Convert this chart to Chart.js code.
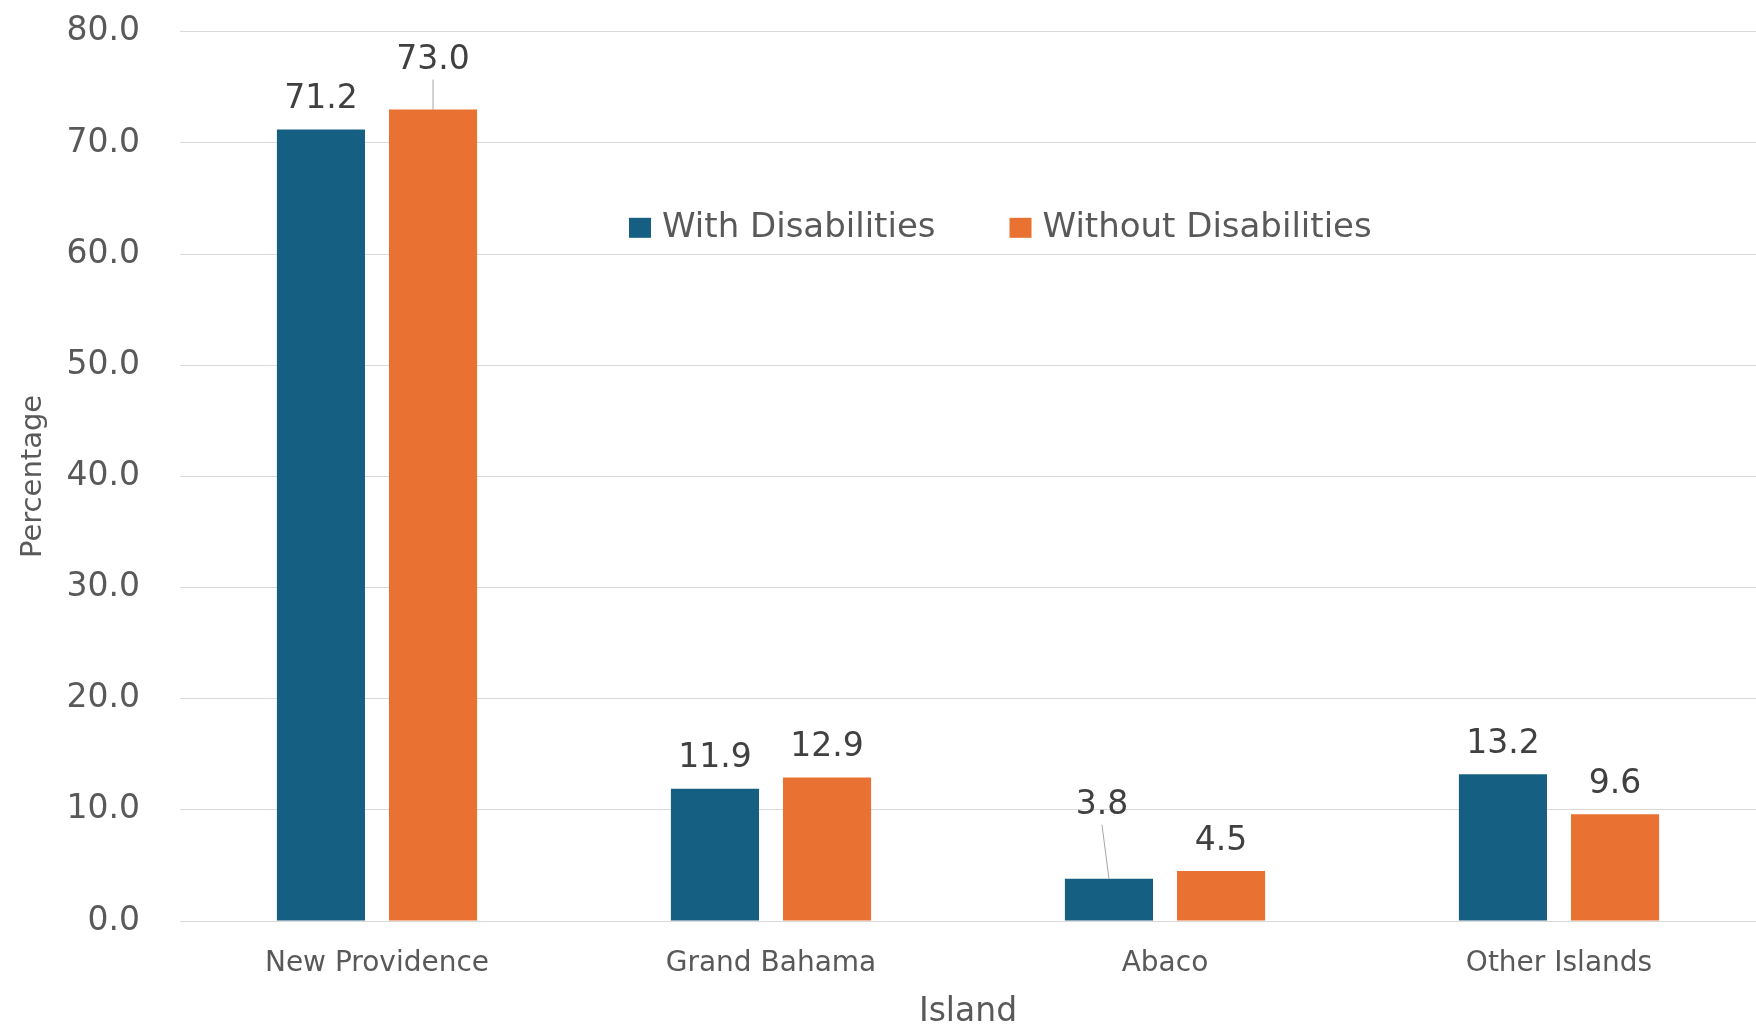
<!DOCTYPE html>
<html>
<head>
<meta charset="utf-8">
<script src="https://cdn.jsdelivr.net/npm/chart.js@4/dist/chart.umd.min.js"></script>
<style>
  html, body { margin: 0; padding: 0; background: #fff; overflow: hidden; }
  /* canvas is a bit taller and pulled up so the 80.0 gridline sits near the top edge */
  #wrap { width: 1756px; height: 1052px; position: relative; margin-top: -28px; }
</style>
</head>
<body>
<div id="wrap"><canvas id="islandChart"></canvas></div>
<script>
// Data
const islands = ['New Providence', 'Grand Bahama', 'Abaco', 'Other Islands'];
const withDisabilities = [71.2, 11.9, 3.8, 13.2];
const withoutDisabilities = [73.0, 12.9, 4.5, 9.6];
const yTicks = [0, 10, 20, 30, 40, 50, 60, 70, 80];

const FONT = '"DejaVu Sans", "Liberation Sans", sans-serif';

// labels that were dragged off the bar in the original (with leader lines)
const labelShift = {
  '1-0': { dx: 0, dy: -19 },
  '0-2': { dx: -7, dy: -43 }
};

const valueLabels = {
  id: 'valueLabels',
  afterDatasetsDraw(chart) {
    const ctx = chart.ctx;
    ctx.save();
    ctx.font = '33px ' + FONT;
    ctx.textAlign = 'center';
    ctx.textBaseline = 'middle';
    chart.data.datasets.forEach((ds, di) => {
      chart.getDatasetMeta(di).data.forEach((bar, i) => {
        const s = labelShift[di + '-' + i] || { dx: 0, dy: 0 };
        const x = bar.x + s.dx;
        const y = bar.y - 30 + s.dy;
        if (s.dy !== 0) {
          ctx.strokeStyle = '#a6a6a6';
          ctx.lineWidth = 1;
          ctx.beginPath();
          ctx.moveTo(bar.x, bar.y);
          ctx.lineTo(x, y + 19);
          ctx.stroke();
        }
        ctx.fillStyle = '#404040';
        ctx.fillText(ds.data[i].toFixed(1), x, y);
      });
    });
    ctx.restore();
  }
};

const innerLegend = {
  id: 'innerLegend',
  afterDraw(chart) {
    const ctx = chart.ctx;
    ctx.save();
    ctx.font = '34px ' + FONT;
    ctx.textBaseline = 'middle';
    let x = 629;
    const y = chart.chartArea.top + 196;
    chart.data.datasets.forEach(ds => {
      ctx.fillStyle = ds.backgroundColor;
      ctx.fillRect(x, y - 10, 22, 20);
      ctx.fillStyle = '#595959';
      ctx.fillText(ds.label, x + 33, y);
      x += 33 + ctx.measureText(ds.label).width + 74;
    });
    ctx.restore();
  }
};

document.addEventListener('DOMContentLoaded', function() {
  const ctx = document.getElementById('islandChart').getContext('2d');
  new Chart(ctx, {
    type: 'bar',
    data: {
      labels: islands,
      datasets: [
        {
          label: 'With Disabilities',
          data: withDisabilities,
          backgroundColor: '#156082',
          categoryPercentage: 0.569,
          barPercentage: 0.786
        },
        {
          label: 'Without Disabilities',
          data: withoutDisabilities,
          backgroundColor: '#e97132',
          categoryPercentage: 0.569,
          barPercentage: 0.786
        }
      ]
    },
    options: {
      responsive: true,
      maintainAspectRatio: false,
      animation: false,
      layout: { padding: 0 },
      plugins: {
        legend: { display: false },
        tooltip: { enabled: false }
      },
      scales: {
        x: {
          grid: { display: false },
          border: { display: false },
          ticks: {
            color: '#595959',
            font: { family: FONT, size: 28 },
            padding: 18
          },
          title: {
            display: true,
            text: 'Island',
            color: '#595959',
            font: { family: FONT, size: 33, lineHeight: 0.7 },
            padding: { top: 4, bottom: 0 }
          },
          afterFit(scale) { scale.height = 103; }
        },
        y: {
          min: 0,
          max: 80,
          afterBuildTicks(scale) {
            scale.ticks = yTicks.map(v => ({ value: v }));
          },
          grid: { color: '#d9d9d9', lineWidth: 1, drawTicks: false },
          border: { display: false },
          ticks: {
            color: '#595959',
            font: { family: FONT, size: 33 },
            padding: 40,
            callback: v => v.toFixed(1)
          },
          title: {
            display: true,
            text: 'Percentage',
            color: '#595959',
            font: { family: FONT, size: 29 },
            padding: { top: 16, bottom: 0 }
          },
          afterFit(scale) { scale.width = 180; }
        }
      }
    },
    plugins: [valueLabels, innerLegend]
  });
});
</script>
</body>
</html>
